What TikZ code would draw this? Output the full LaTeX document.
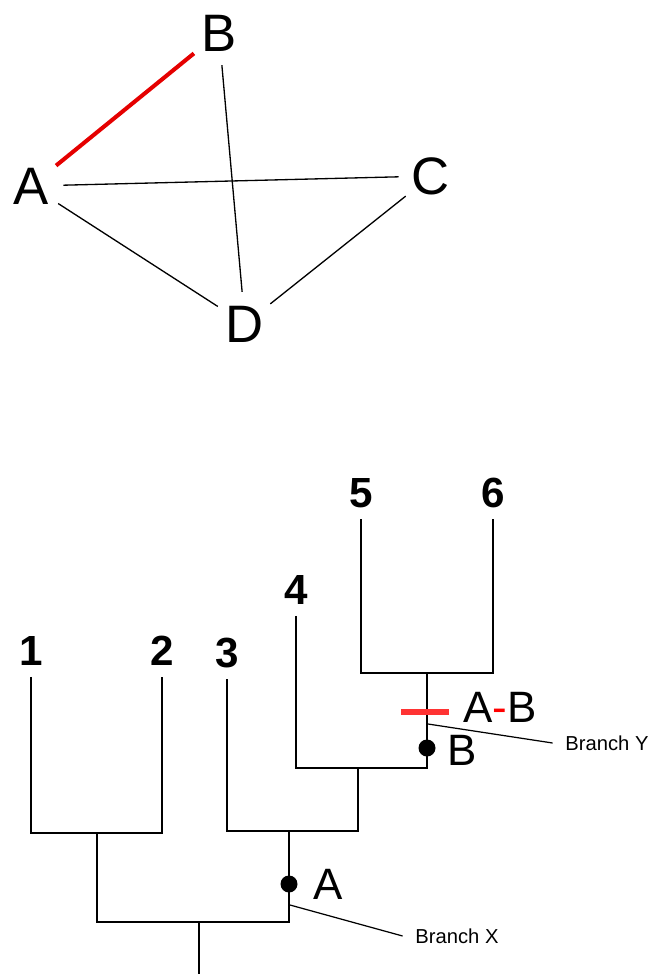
\documentclass[tikz,border=0pt]{standalone}
\usepackage{fontspec}
\setmainfont{Liberation Sans}
\usepackage{xcolor}
\usetikzlibrary{positioning,calc}

\begin{document}
\begin{tikzpicture}[
    x=0.02cm, y=-0.02cm,
    vtx/.style={circle, inner sep=0pt, minimum size=1.28cm, font=\fontsize{30}{30}\selectfont},
    edge/.style={line width=0.75pt},
    hot/.style={line width=2.3pt, draw=red!90!black},
    leaf/.style={inner sep=0.22cm, font=\fontsize{24}{24}\selectfont\bfseries},
    br/.style={line width=1.15pt},
    dot/.style={circle, fill=black, inner sep=0pt, minimum size=0.34cm},
    evt/.style={inner sep=0pt, font=\fontsize{25}{25}\selectfont},
    cut/.style={fill=red!80, inner sep=0pt, minimum width=0.96cm, minimum height=0.13cm},
    tag/.style={inner sep=0.25cm, font=\fontsize{11.5}{12}\selectfont},
    ptr/.style={line width=0.7pt}
]
\useasboundingbox (0,0) rectangle (653,974);

% Graph of A, B, C, D
\node[vtx] (A) at (31,186) {A};
\node[vtx] (B) at (219,33) {B};
\node[vtx] (C) at (431,176) {C};
\node[vtx] (D) at (245,324) {D};
\draw[hot] (A) -- (B);
\draw[edge] (B) -- (D);
\draw[edge] (A) -- (C);
\draw[edge] (A) -- (D);
\draw[edge] (C) -- (D);

% Tree leaves
\node[leaf] (n1) at (31,651) {1};
\node[leaf] (n2) at (162,651) {2};
\node[leaf] (n3) at (227,653) {3};
\node[leaf] (n4) at (296,590) {4};
\node[leaf] (n5) at (361,493) {5};
\node[leaf] (n6) at (493,493) {6};

% Inner branch points
\coordinate (j12) at (97,833);
\coordinate (j56) at (427,673);
\coordinate (j456) at (358,768);
\coordinate (j3456) at (289,831);
\coordinate (root) at (199,922);
\coordinate (base) at (199,974);

\draw[br] (n1.south) |- (j12) -| (n2.south);
\draw[br] (n5.south) |- (j56) -| (n6.south);
\draw[br] (n4.south) |- (j456) -| (j56);
\draw[br] (n3.south) |- (j3456) -| (j456);
\draw[br] (j12) |- (root) -| (j3456);
\draw[br] (root) -- (base);

% Events on the branches
\node[dot] (dA) at (289,884) {};
\node[evt] (lA) at (328,884) {A};
\node[dot] (dB) at (427,748) {};
\node[evt] (lB) at (462,750) {B};
\node[cut] (bar) at (425,712) {};
\node[evt] (lAB) at (500,707) {A\textcolor{red}{-}B};

% Branch names
\coordinate (px) at (290,905);
\node[tag] (bx) at (457,936) {Branch X};
\draw[ptr] (px) -- (bx.west);
\coordinate (py) at (428,724);
\node[tag] (by) at (607,743) {Branch Y};
\draw[ptr] (py) -- (by.west);
\end{tikzpicture}
\end{document}
